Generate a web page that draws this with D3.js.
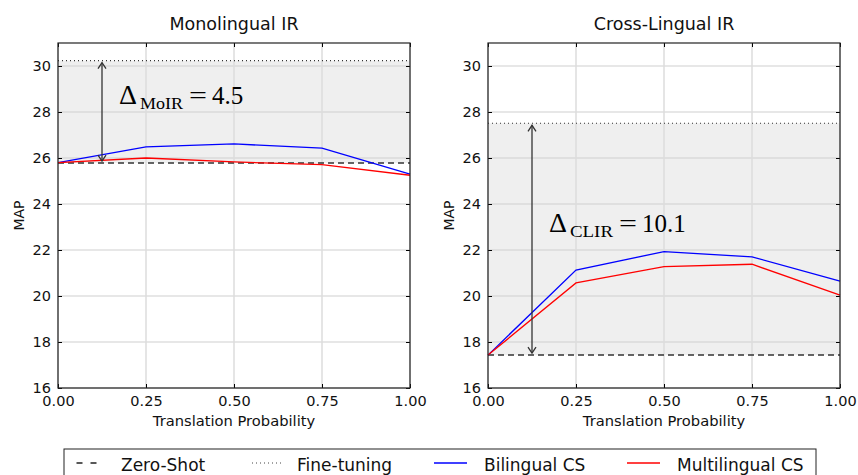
<!DOCTYPE html>
<html><head><meta charset="utf-8">
<script src="https://cdn.jsdelivr.net/npm/d3@7"></script>
<style>body{margin:0;background:#fff}svg{display:block;font-family:"DejaVu Sans",sans-serif}</style>
</head><body><svg id="c" width="858" height="475"></svg>
<script>
const probs = [0, 0.25, 0.5, 0.75, 1.0];
const xTicks = [0, 0.25, 0.5, 0.75, 1.0];
const yTicks = [16, 18, 20, 22, 24, 26, 28, 30];
const titles = ["Monolingual IR", "Cross-Lingual IR"];
const zeroShot = [25.78, 17.43];
const fineTuning = [30.23, 27.51];
const bilingualMoIR = [25.8, 26.48, 26.61, 26.43, 25.30];
const multilingualMoIR = [25.8, 26.0, 25.83, 25.71, 25.25];
const bilingualCLIR = [17.43, 21.13, 21.93, 21.70, 20.65];
const multilingualCLIR = [17.43, 20.57, 21.28, 21.38, 20.04];
const deltaSub = ["MoIR", "CLIR"];
const deltaVal = ["4.5", "10.1"];
const legendLabels = ["Zero-Shot", "Fine-tuning", "Bilingual CS", "Multilingual CS"];

const svg = d3.select("#c");
const panels = [
  {x0: 58, bil: bilingualMoIR, mul: multilingualMoIR, tx: 119, ty: 104},
  {x0: 488, bil: bilingualCLIR, mul: multilingualCLIR, tx: 549, ty: 232}
];
const W = 352, pTop = 43, pBottom = 388;
const serif = "'Liberation Serif','DejaVu Serif',serif";

panels.forEach((p, i) => {
  const g = svg.append("g");
  const x = d3.scaleLinear().domain([0, 1]).range([p.x0, p.x0 + W]);
  const y = d3.scaleLinear().domain([16, 31]).range([pBottom, pTop]);
  g.append("rect").attr("x", x(0)).attr("width", W)
    .attr("y", y(fineTuning[i])).attr("height", y(zeroShot[i]) - y(fineTuning[i]))
    .attr("fill", "#efefef");
  g.selectAll(".hg").data(yTicks).join("line")
    .attr("x1", x(0)).attr("x2", x(1)).attr("y1", d => y(d)).attr("y2", d => y(d))
    .attr("stroke", "#cfcfcf").attr("stroke-width", 1);
  g.selectAll(".vg").data(xTicks).join("line")
    .attr("y1", pTop).attr("y2", pBottom).attr("x1", d => x(d)).attr("x2", d => x(d))
    .attr("stroke", "#dcdcdc").attr("stroke-width", 1.5);
  g.append("line").attr("x1", x(0)).attr("x2", x(1)).attr("y1", y(zeroShot[i])).attr("y2", y(zeroShot[i]))
    .attr("stroke", "#333").attr("stroke-width", 1.5).attr("stroke-dasharray", "6,4");
  g.append("line").attr("x1", x(0)).attr("x2", x(1)).attr("y1", y(fineTuning[i])).attr("y2", y(fineTuning[i]))
    .attr("stroke", "#333").attr("stroke-width", 1.2).attr("stroke-dasharray", "1,3");
  const line = d3.line().x((d, j) => x(probs[j])).y(d => y(d));
  g.append("path").datum(p.bil).attr("d", line).attr("fill", "none").attr("stroke", "#0000ff").attr("stroke-width", 1.3);
  g.append("path").datum(p.mul).attr("d", line).attr("fill", "none").attr("stroke", "#ff0000").attr("stroke-width", 1.3);
  const ax = x(0.125), ya = y(fineTuning[i]) + 2, yb = y(zeroShot[i]) - 2;
  g.append("line").attr("x1", ax).attr("x2", ax).attr("y1", ya).attr("y2", yb).attr("stroke", "#333").attr("stroke-width", 1.3);
  g.append("path").attr("d", `M${ax-4},${ya+6}L${ax},${ya}L${ax+4},${ya+6}`).attr("fill", "none").attr("stroke", "#333").attr("stroke-width", 1.3);
  g.append("path").attr("d", `M${ax-4},${yb-6}L${ax},${yb}L${ax+4},${yb-6}`).attr("fill", "none").attr("stroke", "#333").attr("stroke-width", 1.3);
  const ann = g.append("g").attr("font-family", serif).attr("fill", "#000");
  ann.append("text").attr("x", p.tx).attr("y", p.ty).attr("font-size", 27)
    .attr("textLength", 18).attr("lengthAdjust", "spacingAndGlyphs").text("Δ");
  ann.append("text").attr("x", p.tx + 21).attr("y", p.ty + 5).attr("font-size", 17)
    .attr("textLength", 43).attr("lengthAdjust", "spacingAndGlyphs").text(deltaSub[i]);
  ann.append("text").attr("x", p.tx + 70).attr("y", p.ty).attr("font-size", 26)
    .attr("textLength", 18).attr("lengthAdjust", "spacingAndGlyphs").text("=");
  ann.append("text").attr("x", p.tx + 93).attr("y", p.ty).attr("font-size", 25).text(deltaVal[i]);
  const ax1 = g.append("g").attr("transform", `translate(0,${pBottom})`)
    .call(d3.axisBottom(x).tickValues(xTicks).tickFormat(d3.format(".2f")).tickSize(-4).tickPadding(6));
  const ax2 = g.append("g").attr("transform", `translate(0,${pTop})`)
    .call(d3.axisTop(x).tickValues(xTicks).tickFormat("").tickSize(-4));
  const ay1 = g.append("g").attr("transform", `translate(${x(0)},0)`)
    .call(d3.axisLeft(y).tickValues(yTicks).tickSize(-4).tickPadding(7));
  const ay2 = g.append("g").attr("transform", `translate(${x(1)},0)`)
    .call(d3.axisRight(y).tickValues(yTicks).tickFormat("").tickSize(-4));
  [ax1, ax2, ay1, ay2].forEach(a => {
    a.select(".domain").remove();
    a.selectAll("line").attr("stroke", "#000");
    a.selectAll("text").attr("font-size", 14.5).attr("fill", "#111").attr("font-family", "'DejaVu Sans',sans-serif");
  });
  ax1.selectAll("text").attr("dy", "0.85em");
  g.append("rect").attr("x", x(0)).attr("y", pTop).attr("width", W).attr("height", pBottom - pTop)
    .attr("fill", "none").attr("stroke", "#222").attr("stroke-width", 1.2);
  g.append("text").attr("x", p.x0 + W / 2).attr("y", 30).attr("text-anchor", "middle").attr("font-size", 17.5).attr("fill", "#111").text(titles[i]);
  g.append("text").attr("x", p.x0 + W / 2).attr("y", 426).attr("text-anchor", "middle").attr("font-size", 14.7).attr("fill", "#111").text("Translation Probability");
  g.append("text").attr("transform", `translate(${p.x0 - 34},${(pTop + pBottom) / 2}) rotate(-90)`).attr("text-anchor", "middle").attr("font-size", 14).attr("fill", "#111").text("MAP");
});

const lg = svg.append("g");
lg.append("rect").attr("x", 64).attr("y", 449).attr("width", 752).attr("height", 40).attr("fill", "#fff").attr("stroke", "#222").attr("stroke-width", 1);
const legItems = [
  {x1: 76.5, x2: 97, tx: 121, stroke: "#222", dash: "6,8", w: 1.5},
  {x1: 252, x2: 281, tx: 297, stroke: "#444", dash: "1,3", w: 1},
  {x1: 434, x2: 467, tx: 484, stroke: "#0000ff", dash: null, w: 1.3},
  {x1: 627, x2: 660, tx: 677, stroke: "#ff0000", dash: null, w: 1.3}
];
legItems.forEach((it, k) => {
  lg.append("line").attr("x1", it.x1).attr("x2", it.x2).attr("y1", 463).attr("y2", 463)
    .attr("stroke", it.stroke).attr("stroke-width", it.w).attr("stroke-dasharray", it.dash);
  lg.append("text").attr("x", it.tx).attr("y", 471).attr("font-size", 17).attr("fill", "#111").text(legendLabels[k]);
});
</script></body></html>
